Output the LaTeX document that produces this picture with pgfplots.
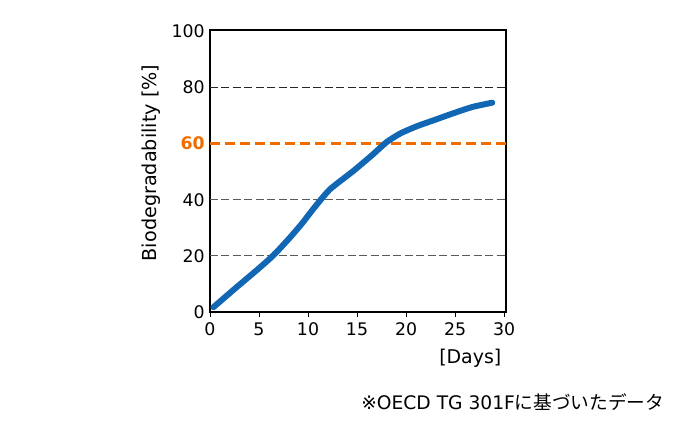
\documentclass[border=0pt]{standalone}
\usepackage{pgfplots}
\pgfplotsset{compat=1.18}
\usepackage{fontspec}
\setmainfont{DejaVu Sans}
\newfontfamily\cjk{Noto Sans CJK JP}
\definecolor{curveblue}{RGB}{18,103,180}
\definecolor{limitorange}{RGB}{240,108,0}
\definecolor{gridgray}{RGB}{90,90,90}

\begin{document}
\begin{tikzpicture}[x=0.75pt,y=0.75pt]
\useasboundingbox (0,0) rectangle (700,440);
\begin{axis}[
    at={(157.5pt,96pt)}, anchor=south west,
    scale only axis,
    width=222pt, height=211.5pt,
    xmin=0, xmax=30.2,
    ymin=0, ymax=100.5,
    xtick={0,5,10,15,20,25,30},
    ytick={0,20,40,60,80,100},
    yticklabels={0,20,40,{\textcolor{limitorange}{\bfseries 60}},80,100},
    xticklabels={0,5,10,15,20,25,30},
    tick label style={font=\fontsize{13}{15}\selectfont},
    xtick align=outside, xtick pos=bottom,
    ytick style={draw=none},
    major tick length=3.5pt,
    tick style={black, line width=0.6pt},
    axis line style={line width=0.8pt},
    yticklabel style={xshift=-0.5pt},
    xticklabel style={yshift=-1pt},
    clip=false,
]
\addplot[gridgray, line width=0.8pt, dash pattern=on 6pt off 2.6pt, forget plot] coordinates {(0,20) (30.2,20)};
\addplot[gridgray, line width=0.8pt, dash pattern=on 6pt off 2.6pt, forget plot] coordinates {(0,40) (30.2,40)};
\addplot[black!85, line width=0.7pt, dash pattern=on 6pt off 2.6pt, forget plot] coordinates {(0,80) (30.2,80)};
\addplot[limitorange, line width=1.8pt, dash pattern=on 7.5pt off 3.8pt, forget plot] coordinates {(0,60) (30.2,60)};
\addplot[curveblue, line width=4.5pt, line cap=round, smooth, tension=0.35] coordinates {
    (0.35,1.7) (2.5,8.2) (4.9,15.3) (6.5,20.3) (8.1,26.3) (9.4,31.6) (10.6,37.0)
    (12.2,43.6) (14.6,50.2) (16.6,56.1) (18.0,60.5) (19.4,63.6) (21.1,66.2)
    (22.8,68.3) (24.8,70.8) (26.8,73.1) (28.8,74.6)
};
\end{axis}
\node[rotate=90, font=\fontsize{14.4}{16}\selectfont] at (151,440-163) {Biodegradability [\%]};
\node[anchor=east, font=\fontsize{14.2}{16}\selectfont] at (506,440-358) {[Days]};
\node[anchor=east, font=\fontsize{14}{16}\selectfont] at (669,440-402) {※OECD TG 301F{\cjk に基づいたデータ}};
\end{tikzpicture}
\end{document}
